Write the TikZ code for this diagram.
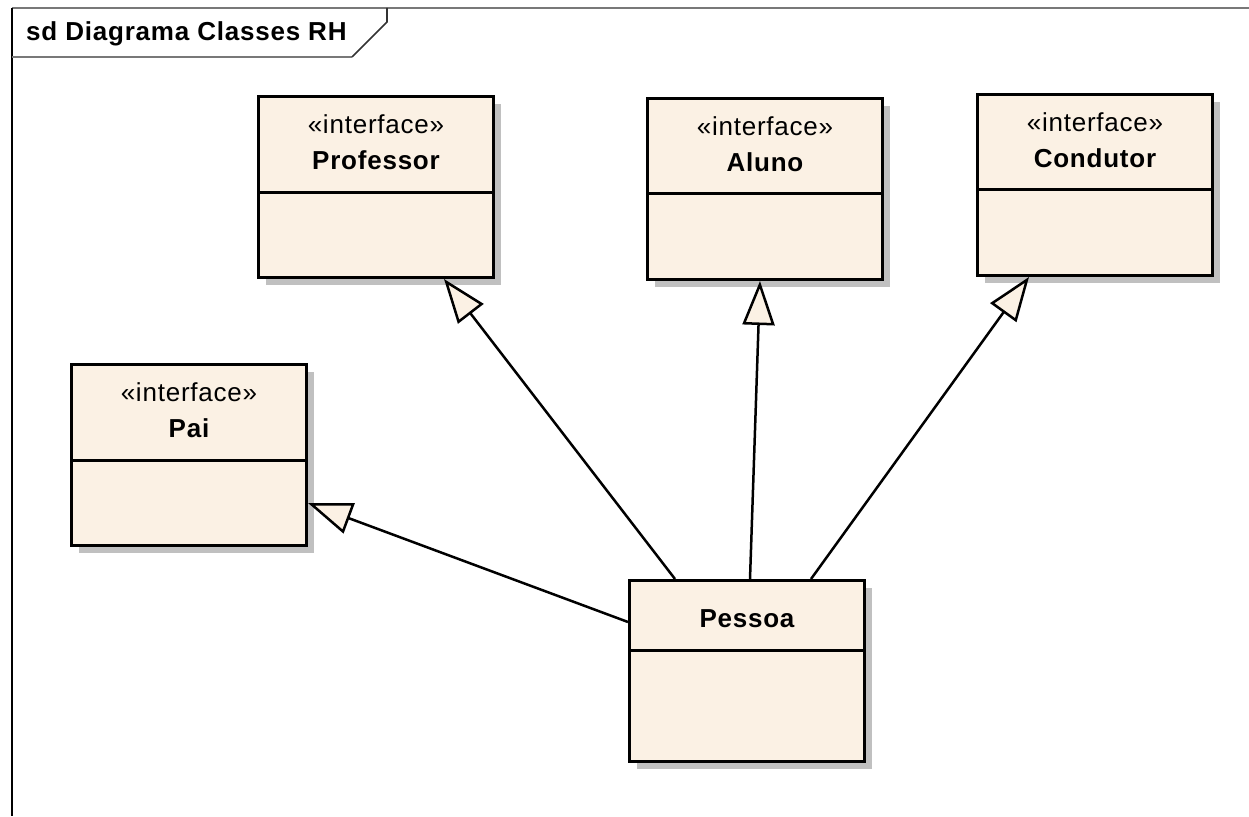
\documentclass[tikz,border=0pt]{standalone}
\usepackage{fontspec}
\setmainfont{Liberation Sans}
\newfontfamily\umlfont{Liberation Sans}[LetterSpace=3]
\usetikzlibrary{arrows.meta,shadows}
\definecolor{boxfill}{RGB}{251,241,228}
\definecolor{shadowgray}{RGB}{192,192,192}
\definecolor{framegray}{RGB}{120,120,120}
\tikzset{
  umlbox/.style={draw=black, line width=3pt, fill=boxfill, rectangle,
    minimum width=235pt, minimum height=181pt, anchor=north west, inner sep=0pt,
    general shadow={fill=shadowgray, draw=none, shadow xshift=7pt, shadow yshift=-7pt}},
  divider/.style={draw=black, line width=3pt},
  umltext/.style={font=\umlfont\fontsize{26pt}{30pt}\selectfont, inner sep=0pt},
  stereo/.style={umltext, anchor=base},
  clsname/.style={umltext, font=\umlfont\bfseries\fontsize{26pt}{30pt}\selectfont, anchor=base},
  gen/.style={draw=black, line width=2.5pt,
    -{Triangle[length=44pt, width=32pt, fill=boxfill, line join=miter]}},
}
\begin{document}
\begin{tikzpicture}[x=1pt, y=-1pt]
  \useasboundingbox (0,0) rectangle (1249,816);

  % diagram frame
  \draw[framegray, line width=2.2pt] (12,8) -- (1249,8);
  \draw[black, line width=2.2pt] (12,8) -- (12,816);
  \draw[framegray, line width=2pt] (12,57) -- (352,57);
  \draw[black!80, line width=1.6pt] (352,57) -- (387,22) -- (387,8);
  \node[umltext, font=\umlfont\bfseries\fontsize{26pt}{30pt}\selectfont, anchor=base west]
    (title) at (26,41) {sd Diagrama Classes RH};

  % classes
  \node[umlbox] (prof) at (257,95) {};
  \node[umlbox] (aluno) at (646,97) {};
  \node[umlbox] (cond) at (976,93) {};
  \node[umlbox] (pai) at (70,363) {};
  \node[umlbox] (pessoa) at (628,579) {};

  % compartment lines
  \foreach \n/\d in {prof/97, aluno/96, cond/96, pai/97, pessoa/71}
    \draw[divider] ([yshift=-\d pt]\n.north west) -- ([yshift=-\d pt]\n.north east);

  % labels
  \foreach \n/\t in {prof/Professor, aluno/Aluno, cond/Condutor, pai/Pai} {
    \node[stereo] (\n-st) at ([yshift=-38pt]\n.north) {«interface»};
    \node[clsname] (\n-nm) at ([yshift=-74pt]\n.north) {\t};
  }
  \node[clsname] (pessoa-nm) at ([yshift=-48pt]pessoa.north) {Pessoa};

  % generalizations
  \draw[gen] ([xshift=47pt]pessoa.north west) -- ([xshift=187pt]prof.south west);
  \draw[gen] ([xshift=122pt]pessoa.north west) -- ([xshift=114pt]aluno.south west);
  \draw[gen] ([xshift=183pt]pessoa.north west) -- ([xshift=53pt]cond.south west);
  \draw[gen] ([yshift=-43pt]pessoa.north west) -- ([yshift=44pt]pai.south east);
\end{tikzpicture}
\end{document}
